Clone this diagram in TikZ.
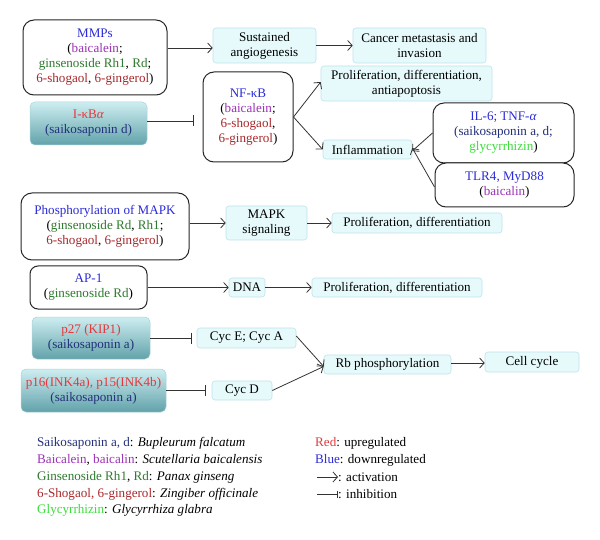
\documentclass[tikz,border=0pt]{standalone}
\usepackage{fontspec}
\setmainfont{Liberation Serif}
\usetikzlibrary{arrows.meta}
\definecolor{cblue}{HTML}{2B2BD8}
\definecolor{cpurple}{HTML}{9B30B5}
\definecolor{cgreen}{HTML}{2E7A2E}
\definecolor{cbrown}{HTML}{A8282C}
\definecolor{cred}{HTML}{E3383C}
\definecolor{cnavy}{HTML}{22307A}
\definecolor{clime}{HTML}{3CDC3C}
\definecolor{lfill}{HTML}{E6FAFC}
\definecolor{ldraw}{HTML}{BCE3EA}
\definecolor{ttop}{HTML}{CDEEF1}
\definecolor{tbot}{HTML}{62A2AA}
\definecolor{tdraw}{HTML}{A9D3D8}
\definecolor{lnc}{HTML}{333333}
\newcommand{\cb}[1]{\textcolor{cblue}{#1}}
\newcommand{\cp}[1]{\textcolor{cpurple}{#1}}
\newcommand{\cg}[1]{\textcolor{cgreen}{#1}}
\newcommand{\cbr}[1]{\textcolor{cbrown}{#1}}
\newcommand{\cre}[1]{\textcolor{cred}{#1}}
\newcommand{\cn}[1]{\textcolor{cnavy}{#1}}
\newcommand{\cl}[1]{\textcolor{clime}{#1}}
\begin{document}
\begin{tikzpicture}[x=1pt,y=-1pt,
  font=\fontsize{13.1}{15}\selectfont,
  darkbox/.style={draw=black!85, line width=1pt, rounded corners=11pt, fill=white, align=center, inner sep=0pt},
  lightbox/.style={draw=ldraw, line width=0.6pt, fill=lfill, rounded corners=3pt, align=center, inner sep=0pt},
  tealbox/.style={draw=tdraw, line width=0.5pt, top color=ttop, bottom color=tbot, rounded corners=5pt, align=center, inner sep=0pt},
  act/.style={draw=lnc, line width=0.8pt, -{Straight Barb[length=4.5pt,width=10pt]}},
  inh/.style={draw=lnc, line width=0.8pt, -{Bar[width=11pt,line width=0.9pt]}},
  legtxt/.style={anchor=west, inner sep=0pt}]
\useasboundingbox (0,0) rectangle (600,540);

% top row
\node[darkbox, minimum width=144, minimum height=75] (mmp) at (95,57.5)
  {\cb{MMPs}\\(\cp{baicalein};\\\cg{ginsenoside Rh1}, \cg{Rd};\\\cbr{6-shogaol}, \cbr{6-gingerol})};
\node[lightbox, minimum width=103, minimum height=35] (sus) at (264.5,45.5) {Sustained\\angiogenesis};
\node[lightbox, minimum width=133, minimum height=35] (cancer) at (419.5,45.5) {Cancer metastasis and\\invasion};

\node[tealbox, minimum width=117, minimum height=43] (ikb) at (88.5,123.5) {\cre{I-κB\textit{α}}\\\cn{(saikosaponin d)}};
\node[darkbox, minimum width=90, minimum height=90] (nfkb) at (248,117)
  {\cb{NF-κB}\\(\cp{baicalein};\\\cbr{6-shogaol},\\\cbr{6-gingerol})};
\node[lightbox, minimum width=171, minimum height=35] (prol1) at (406.5,83.5) {Proliferation, differentiation,\\antiapoptosis};
\node[lightbox, minimum width=89, minimum height=19] (infl) at (367.5,149.5) {Inflammation};
\node[darkbox, minimum width=141, minimum height=60] (il6) at (503.5,133)
  {\cb{IL-6; TNF-\textit{α}}\\\cn{(saikosaponin a, d;}\\\cl{glycyrrhizin})};
\node[darkbox, minimum width=139, minimum height=44] (tlr) at (504.5,185)
  {\cb{TLR4, MyD88}\\(\cp{baicalin})};

% MAPK row
\node[darkbox, minimum width=168, minimum height=67] (mapkp) at (105,226.5)
  {\cb{Phosphorylation of MAPK}\\(\cg{ginsenoside Rd}, \cg{Rh1};\\\cbr{6-shogaol}, \cbr{6-gingerol})};
\node[lightbox, minimum width=81, minimum height=34] (mapks) at (266.5,223) {MAPK\\signaling};
\node[lightbox, minimum width=170, minimum height=20] (prol2) at (417,223) {Proliferation, differentiation};

% AP-1 row
\node[darkbox, rounded corners=8pt, minimum width=117, minimum height=43] (ap1) at (88.5,287.5)
  {\cb{AP-1}\\(\cg{ginsenoside Rd})};
\node[lightbox, minimum width=36, minimum height=19] (dna) at (247,287.5) {DNA};
\node[lightbox, minimum width=170, minimum height=19] (prol3) at (397,287.5) {Proliferation, differentiation};

% cell cycle
\node[tealbox, minimum width=118, minimum height=42] (p27) at (91,338) {\cre{p27 (KIP1)}\\\cn{(saikosaponin a)}};
\node[lightbox, minimum width=99, minimum height=20] (cycea) at (246.5,338) {Cyc E; Cyc A};
\node[tealbox, minimum width=145, minimum height=43] (p16) at (93.5,390.5) {\cre{p16(INK4a), p15(INK4b)}\\\cn{(saikosaponin a)}};
\node[lightbox, minimum width=60, minimum height=19] (cycd) at (242,390.5) {Cyc D};
\node[lightbox, minimum width=127, minimum height=19] (rb) at (387.5,364.5) {Rb phosphorylation};
\node[lightbox, minimum width=94, minimum height=20] (cell) at (532,362) {Cell cycle};

% connectors
\draw[act] (mmp.east |- 0,48) -- (sus.west |- 0,48);
\draw[act] (sus.east) -- (cancer.west);
\draw[inh, shorten >=9pt] (ikb.east |- 0,121) -- (nfkb.west |- 0,121);
\draw[act] (nfkb.east) -- ([yshift=1.5pt]prol1.west);
\draw[act] (nfkb.east) -- (infl.west);
\draw[act] (il6.west) -- ([yshift=-1.5pt]infl.east);
\draw[act] ([yshift=-2pt]tlr.west) -- ([yshift=1.5pt]infl.east);
\draw[act] (mapkp.east |- mapks.west) -- (mapks.west);
\draw[act] (mapks.east) -- (prol2.west);
\draw[act] (ap1.east) -- (dna.west);
\draw[act] (dna.east) -- (prol3.west);
\draw[inh, shorten >=5pt] (p27.east |- cycea.west) -- (cycea.west);
\draw[inh, shorten >=6pt] (p16.east |- cycd.west) -- (cycd.west);
\draw[act] ([yshift=2pt]cycea.east) -- ([yshift=-2pt]rb.west);
\draw[act] (cycd.east) -- ([yshift=-2pt]rb.west);
\draw[act] (rb.east |- 0,363) -- (cell.west |- 0,363);

% legend left
\node[legtxt] (l1) at (37,443) {\cn{Saikosaponin a, d}: \textit{Bupleurum falcatum}};
\node[legtxt] (l2) at (37,460) {\cp{Baicalein}, \cp{baicalin}: \textit{Scutellaria baicalensis}};
\node[legtxt] (l3) at (37,477) {\cg{Ginsenoside Rh1}, \cg{Rd}: \textit{Panax ginseng}};
\node[legtxt] (l4) at (37,494) {\cbr{6-Shogaol, 6-gingerol}: \textit{Zingiber officinale}};
\node[legtxt] (l5) at (37,510) {\cl{Glycyrrhizin}: \textit{Glycyrrhiza glabra}};

% legend right
\node[legtxt] (r1) at (315,443) {\cre{Red}: upregulated};
\node[legtxt] (r2) at (315,460) {\cb{Blue}: downregulated};
\coordinate (a1) at (317,477);
\node[legtxt] (r3) at (338,477) {: activation};
\draw[act] (a1) -- (r3.west);
\coordinate (b1) at (317,494);
\node[legtxt] (r4) at (338,494) {: inhibition};
\draw[draw=lnc, line width=0.8pt, -{Bar[width=7pt,line width=0.8pt]}] (b1) -- (r4.west);
\end{tikzpicture}
\end{document}
